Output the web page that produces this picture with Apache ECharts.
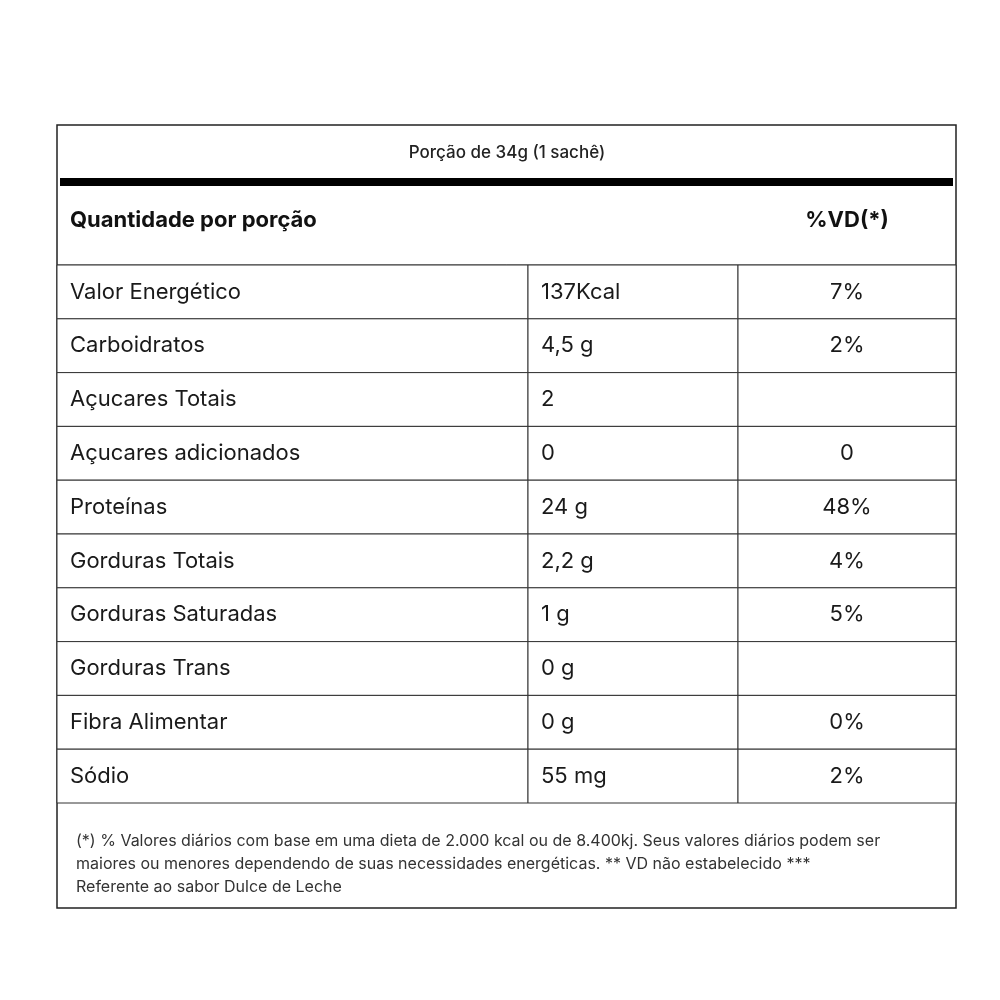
<!DOCTYPE html>
<html><head><meta charset="utf-8">
<script src="https://cdn.jsdelivr.net/npm/echarts@6/dist/echarts.min.js"></script>
<style>html,body{margin:0;background:#fff}#c{width:1000px;height:1000px}</style>
</head><body><div id="c"></div>
<script>
const nutrients = ["Valor Energético","Carboidratos","Açucares Totais","Açucares adicionados","Proteínas","Gorduras Totais","Gorduras Saturadas","Gorduras Trans","Fibra Alimentar","Sódio"];
const amounts = ["137Kcal","4,5 g","2","0","24 g","2,2 g","1 g","0 g","0 g","55 mg"];
const dailyValues = ["7%","2%","","0","48%","4%","5%","","0%","2%"];
const columnEdges = [0, 471, 681, 899];
const FONT = 'Inter, "Open Sans", sans-serif';

const chart = echarts.init(document.getElementById('c'));
const L = 57, W = 899;
chart.setOption({
  animation:false,
  grid:{left:L, top:265, width:W, height:538},
  xAxis:{type:'value', min:0, max:899, show:false},
  yAxis:{type:'category', data:nutrients, inverse:true, show:false},
  graphic:[
    {type:'rect', shape:{x:L, y:125, width:W, height:783}, style:{fill:'none', stroke:'#222', lineWidth:1.5}},
    {type:'rect', shape:{x:L+3, y:178, width:W-6, height:8}, style:{fill:'#000'}},
    {type:'text', x:507, y:153, style:{text:'Porção de 34g (1 sachê)', font:'500 17px '+FONT, fill:'#222', align:'center', verticalAlign:'middle'}},
    {type:'text', x:70, y:220, style:{text:'Quantidade por porção', font:'bold 22px '+FONT, fill:'#111', verticalAlign:'middle'}},
    {type:'text', x:847, y:220, style:{text:'%VD(*)', font:'bold 22px '+FONT, fill:'#111', align:'center', verticalAlign:'middle'}},
    {type:'line', shape:{x1:L, y1:265, x2:L+W, y2:265}, style:{stroke:'#333', lineWidth:1}},
    {type:'text', x:76, y:864, style:{text:'(*) % Valores diários com base em uma dieta de 2.000 kcal ou de 8.400kj. Seus valores diários podem ser\nmaiores ou menores dependendo de suas necessidades energéticas. ** VD não estabelecido ***\nReferente ao sabor Dulce de Leche', font:'16px '+FONT, fill:'#333', lineHeight:23, verticalAlign:'middle'}}
  ],
  series:[{
    type:'custom',
    data: nutrients.map((n,i)=>[i]),
    renderItem:(params, api)=>{
      const i = api.value(0);
      const size = api.size([0,1]);
      const h = size[1];
      const children = [];
      const texts = [nutrients[i], amounts[i], dailyValues[i]];
      for (let c=0;c<3;c++){
        const p0 = api.coord([columnEdges[c], i]);
        const p1 = api.coord([columnEdges[c+1], i]);
        const top = p0[1]-h/2;
        children.push({type:'rect', shape:{x:p0[0], y:top, width:p1[0]-p0[0], height:h}, style:{fill:'#fff', stroke:'#333', lineWidth:1}});
        const center = c===2;
        children.push({type:'text', x: center ? (p0[0]+p1[0])/2 : p0[0]+13, y:p0[1],
          style:{text:texts[c], font:'22px '+FONT, fill:'#1a1a1a', align:center?'center':'left', verticalAlign:'middle'}});
      }
      return {type:'group', children};
    }
  }]
});
</script></body></html>
